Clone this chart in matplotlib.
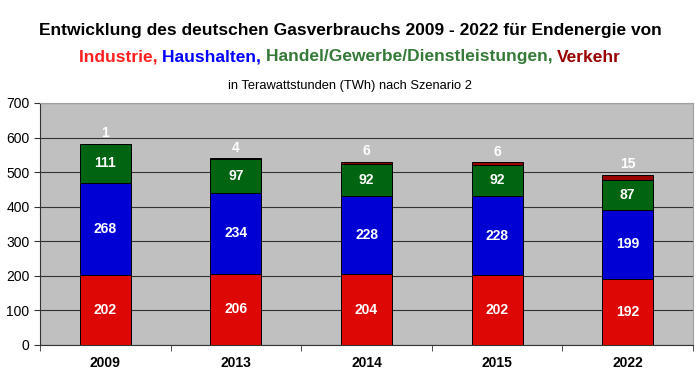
import matplotlib
matplotlib.use("Agg")
import matplotlib.pyplot as plt
import numpy as np

plt.rcParams["font.family"] = ["Liberation Sans", "DejaVu Sans"]

jahre = ["2009", "2013", "2014", "2015", "2022"]
industrie = [202, 206, 204, 202, 192]
haushalte = [268, 234, 228, 228, 199]
ghd = [111, 97, 92, 92, 87]
verkehr = [1, 4, 6, 6, 15]

c_ind = "#DD0806"
c_hh = "#0000D4"
c_ghd = "#006411"
c_vk = "#990000"

fig = plt.figure(figsize=(7, 3.81), dpi=100)
ax = fig.add_axes([40 / 700, 1 - 345 / 381, 653 / 700, 242 / 381])
ax.set_facecolor("#C0C0C0")

x = np.arange(len(jahre))
w = 0.39
bottom = np.zeros(len(jahre))
for vals, col in [(industrie, c_ind), (haushalte, c_hh), (ghd, c_ghd), (verkehr, c_vk)]:
    ax.bar(x, vals, w, bottom=bottom, color=col, edgecolor="black", linewidth=0.7, zorder=3)
    if col != c_vk:
        for xi, b, v in zip(x, bottom, vals):
            ax.text(xi, b + v / 2, str(v), ha="center", va="center", color="white",
                    fontsize=10, fontweight="bold", zorder=4)
    bottom += np.array(vals)

for xi, top, v in zip(x, bottom, verkehr):
    ax.text(xi, top + 30, str(v), ha="center", va="center", color="white",
            fontsize=10, fontweight="bold", zorder=4)

ax.set_xlim(-0.5, len(jahre) - 0.5)
ax.set_ylim(0, 700)
ax.set_yticks(range(0, 701, 100))
ax.yaxis.grid(True, color="#333333", linewidth=0.8, zorder=1)
ax.set_axisbelow(True)
ax.set_xticks(x)
ax.set_xticklabels(jahre, fontweight="bold", fontsize=10)
ax.tick_params(axis="x", length=0, pad=8)
ax.set_xticks(np.arange(-0.5, len(jahre)), minor=True)
ax.tick_params(axis="x", which="minor", length=4, direction="out", color="#333333")
ax.tick_params(axis="y", length=4, direction="out", labelsize=10, color="#333333")
for s in ["left", "bottom"]:
    ax.spines[s].set_color("#333333")
for s in ["top", "right"]:
    ax.spines[s].set_color("#A0A0A0")

fig.text(0.5, 1 - 30 / 381, "Entwicklung des deutschen Gasverbrauchs 2009 - 2022 für Endenergie von",
         ha="center", va="center", fontsize=12.5, fontweight="bold")

# farbige zweite Zeile aus Einzelstücken zusammensetzen
teile = [("Industrie, ", "#FF2020"), ("Haushalten, ", "#0000FF"),
         ("Handel/Gewerbe/Dienstleistungen, ", "#357A38"), ("Verkehr", "#990000")]
renderer = fig.canvas.get_renderer()
texte = []
for t, col in teile:
    texte.append(fig.text(0, 1 - 57 / 381, t, ha="left", va="center", fontsize=12.5,
                          fontweight="bold", color=col))
breiten = [tx.get_window_extent(renderer).width / fig.bbox.width for tx in texte]
pos = 0.5 - sum(breiten) / 2
for tx, b in zip(texte, breiten):
    tx.set_x(pos)
    pos += b

fig.text(0.5, 1 - 86 / 381, "in Terawattstunden (TWh) nach Szenario 2",
         ha="center", va="center", fontsize=9.3)

fig.savefig("out.png", dpi=100)
